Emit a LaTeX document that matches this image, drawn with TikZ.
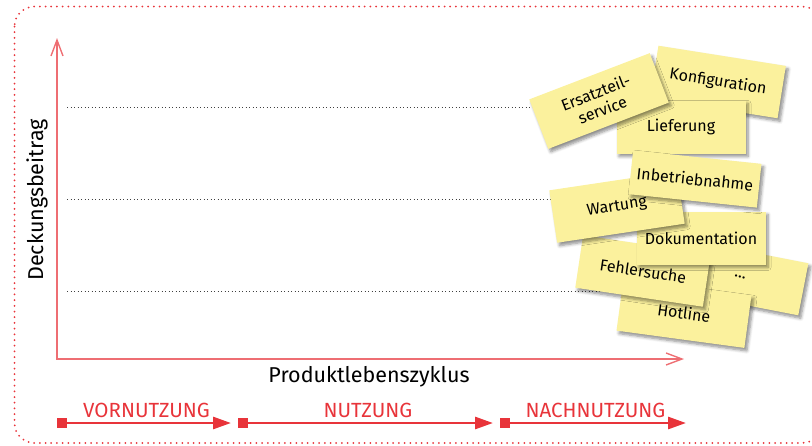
\documentclass[tikz,border=0pt]{standalone}
\usepackage{fontspec}
\setmainfont{Fira Sans}
\usetikzlibrary{arrows.meta, positioning, shadows.blur}
\definecolor{notefill}{RGB}{251,241,157}
\definecolor{phasered}{RGB}{232,52,58}
\definecolor{axisred}{RGB}{238,110,115}

\begin{document}
\begin{tikzpicture}[
        x=1pt, y=-1pt,
        frame/.style={draw=phasered, line width=2pt, dash pattern=on 0pt off 5.7pt, line cap=round, rounded corners=20pt},
        axis/.style={draw=axisred, line width=1.4pt, {Straight Barb[length=16pt,width=12pt]}-{Straight Barb[length=16pt,width=12pt]}},
        guide/.style={draw=black!75, line width=0.9pt, dash pattern=on 0.9pt off 2.6pt},
        note/.style={rectangle, fill=notefill, minimum width=129pt, minimum height=53pt, inner sep=2pt, align=center,
            font=\fontsize{16}{17}\selectfont,
            blur shadow={shadow xshift=2.5pt, shadow yshift=-3pt, shadow blur steps=6, shadow blur radius=3pt, shadow opacity=45}},
        phase/.style={draw=phasered, line width=2.8pt, -{Triangle[length=18pt,width=12pt]}},
        phasesq/.style={rectangle, fill=phasered, minimum width=10pt, minimum height=10pt, inner sep=0pt},
        phaselabel/.style={text=phasered, font=\fontsize{20.5}{22}\selectfont, inner sep=1pt, above=3pt}
    ]
    \useasboundingbox (0,0) rectangle (812,445);
    \clip (0,0) rectangle (812,445);

    % frame
    \draw [frame] (14.5,6.5) rectangle (822,443);

    % axes
    \coordinate (origin) at (57,359);
    \coordinate (ytip) at (57,38);
    \coordinate (xtip) at (684,359);
    \draw [axis] (ytip) -- (origin) -- (xtip);
    \foreach \y in {107,199,291}
        \draw [guide] (67,\y) -- (600,\y);

    \node (ylabel) [rotate=90, font=\fontsize{21.5}{24}\selectfont] at (37,200) {Deckungsbeitrag};
    \node (xlabel) [font=\fontsize{21.5}{24}\selectfont] at (369,377) {Produktlebenszyklus};

    % notes
    \node (konfig) [note, rotate=-9] at (718,82) {Konfiguration};
    \node (liefer) [note] at (681,127) {Lieferung};
    \node (ersatz) [note, rotate=21, font=\fontsize{16}{18.5}\selectfont] at (599,101) {Ersatzteil-\\service};
    \node (etc) [note, rotate=-11] at (740,277) {...};
    \node (hotline) [note, rotate=-7.7] at (684,313) {Hotline};
    \node (fehler) [note, rotate=-8.5] at (643,271) {Fehlersuche};
    \node (doku) [note] at (701,238) {Dokumentation};
    \node (wartung) [note, rotate=8.5] at (617,207) {Wartung};
    \node (inbetrieb) [note, rotate=-6, minimum height=44pt] at (695,179) {Inbetriebnahme};

    % phases
    \node (vor) [phasesq] at (62,423) {};
    \node (nutz) [phasesq] at (243,423) {};
    \node (nach) [phasesq] at (505,423) {};
    \coordinate (vorEnd) at (231,423);
    \coordinate (nutzEnd) at (493,423);
    \coordinate (nachEnd) at (686,423);

    \draw [phase] (vor.center) -- node [phaselabel] {VORNUTZUNG} (vorEnd);
    \draw [phase] (nutz.center) -- node [phaselabel] {NUTZUNG} (nutzEnd);
    \draw [phase] (nach.center) -- node [phaselabel] {NACHNUTZUNG} (nachEnd);

\end{tikzpicture}
\end{document}
